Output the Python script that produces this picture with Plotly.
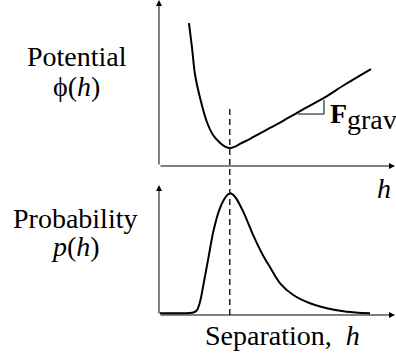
import plotly.graph_objects as go

# ---- data (arbitrary units) ----
pot_h = [1.27, 1.40, 1.53, 1.74, 2.03, 2.29, 2.59, 2.80, 3.01, 3.22, 3.43, 3.86, 4.28, 4.70, 5.13, 5.98, 6.95, 7.88, 8.98]
pot_phi = [8.61, 7.11, 5.48, 4.10, 2.65, 1.87, 1.39, 1.17, 1.08, 1.17, 1.33, 1.64, 1.97, 2.29, 2.62, 3.31, 4.07, 4.91, 5.84]

prob_h = [0.04, 0.68, 1.31, 1.48, 1.61, 1.74, 1.88, 2.09, 2.30, 2.58, 2.87, 3.01, 3.22, 3.57, 3.99, 4.42,
          4.70, 5.13, 5.69, 6.40, 7.11, 7.95, 8.94]
prob_p = [0.13, 0.14, 0.15, 0.21, 0.38, 1.02, 2.31, 4.36, 6.41, 8.21, 9.18, 9.36, 9.10, 7.95, 6.15, 4.54,
          3.69, 2.44, 1.54, 0.90, 0.52, 0.25, 0.13]

tri_h = [5.89, 6.99, 6.99]
tri_phi = [3.13, 3.13, 3.98]

h_peak = 3.0
phi_dash_top = 3.43
x_max, y_max = 10, 10

FONT = "Liberation Serif"
top_dom = [0.5337, 1.0]
bot_dom = [0.1152, 0.4803]
x_dom = [0.4015, 0.9975]

fig = go.Figure()
fig.add_trace(go.Scatter(x=pot_h, y=pot_phi, mode="lines", line=dict(color="black", width=2, shape="spline", smoothing=1.0),
                         xaxis="x", yaxis="y", cliponaxis=False, hoverinfo="skip"))
fig.add_trace(go.Scatter(x=tri_h, y=tri_phi, mode="lines", line=dict(color="black", width=1),
                         xaxis="x", yaxis="y", cliponaxis=False, hoverinfo="skip"))
fig.add_trace(go.Scatter(x=prob_h, y=prob_p, mode="lines", line=dict(color="black", width=2, shape="spline", smoothing=0.8),
                         xaxis="x2", yaxis="y2", cliponaxis=False, hoverinfo="skip"))

ax_common = dict(showgrid=False, zeroline=False, showline=False, showticklabels=False, ticks="", fixedrange=True)
fig.update_layout(
    width=396, height=356, margin=dict(l=0, r=0, t=0, b=0),
    paper_bgcolor="white", plot_bgcolor="white", showlegend=False,
    font=dict(family=FONT, color="black"),
    xaxis=dict(domain=x_dom, range=[0, x_max], anchor="y", **ax_common),
    yaxis=dict(domain=top_dom, range=[0, y_max], anchor="x", **ax_common),
    xaxis2=dict(domain=x_dom, range=[0, x_max], anchor="y2", **ax_common),
    yaxis2=dict(domain=bot_dom, range=[0, y_max], anchor="x2", **ax_common),
)

# dashed line through the peak / minimum
y_dash_top = top_dom[0] + phi_dash_top / y_max * (top_dom[1] - top_dom[0])
fig.add_shape(type="line", xref="x", yref="paper", x0=h_peak, x1=h_peak, y0=bot_dom[0], y1=y_dash_top,
              line=dict(color="black", width=1.3, dash="6px,4px"))

# axes with arrows
for xr, yr in (("x", "y"), ("x2", "y2")):
    for tx, ty in ((x_max, 0), (0, y_max)):
        fig.add_annotation(x=tx, y=ty, ax=0, ay=0, xref=xr, yref=yr, axref=xr, ayref=yr, text="",
                           showarrow=True, arrowhead=2, arrowsize=1.2, arrowwidth=1, arrowcolor="black")

def lab(text, x, y, size=28, xanchor="center"):
    fig.add_annotation(text=text, x=x, y=y, xref="paper", yref="paper",
                       xanchor=xanchor, yanchor="middle", showarrow=False,
                       font=dict(family=FONT, size=size, color="black"))

lab("Potential", 0.1944, 0.8399)
lab("\u03d5(<i>h</i>)", 0.1944, 0.7584)
lab("Probability", 0.1894, 0.3876)
lab("<i>p</i>(<i>h</i>)", 0.1894, 0.3062)
lab("Separation,\u00a0\u00a0<i>h</i>", 0.7146, 0.0562)
lab("<i>h</i>", 0.9697, 0.4719)
lab("<b>F</b>", 0.8283, 0.6798, xanchor="left")
lab("grav", 0.8712, 0.6657, xanchor="left")

fig.write_html("out.html")
